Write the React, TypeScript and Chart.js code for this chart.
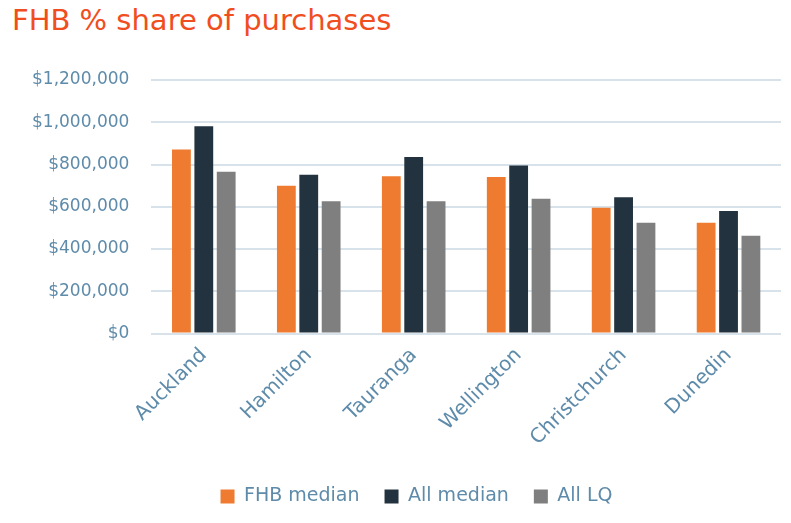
import React, { useEffect, useRef } from "react";
import { Chart, registerables } from "chart.js";

Chart.register(...registerables);

const categories = ["Auckland", "Hamilton", "Tauranga", "Wellington", "Christchurch", "Dunedin"];
const fhbMedian = [871000, 700000, 744000, 741000, 596000, 525000];
const allMedian = [981000, 752000, 836000, 796000, 645000, 580000];
const allLQ = [766000, 626000, 626000, 638000, 525000, 463000];
const seriesNames = ["FHB median", "All median", "All LQ"];
const seriesColors = ["#EE7B30", "#22333F", "#7F7F7F"];

const FONT = "'DejaVu Sans', 'Open Sans', sans-serif";
const TEXT_COLOR = "#5E8BAA";

const shiftLegend = {
  id: "shiftLegend",
  afterLayout(chart: any) {
    const lg = chart.legend;
    if (lg) {
      lg.left += 21;
      lg.right += 21;
    }
  },
};

export default function App() {
  const ref = useRef<HTMLCanvasElement | null>(null);
  useEffect(() => {
    if (!ref.current) return;
    const chart = new Chart(ref.current, {
      type: "bar",
      data: {
        labels: categories,
        datasets: [fhbMedian, allMedian, allLQ].map((d, i) => ({
          label: seriesNames[i],
          data: d,
          backgroundColor: seriesColors[i],
          borderWidth: 0,
          categoryPercentage: 0.64,
          barPercentage: 0.84,
        })),
      },
      plugins: [shiftLegend],
      options: {
        animation: false,
        responsive: true,
        maintainAspectRatio: false,
        layout: { padding: { top: 80, right: 10, left: 10, bottom: 7 } },
        plugins: {
          title: { display: false },
          tooltip: { enabled: false },
          legend: {
            position: "bottom",
            labels: {
              boxWidth: 14,
              boxHeight: 14,
              padding: 25,
              color: TEXT_COLOR,
              font: { family: FONT, size: 19 },
            },
          },
        },
        scales: {
          x: {
            grid: { display: false },
            border: { display: false },
            afterFit: (scale: any) => {
              scale.height += 10;
            },
            ticks: {
              color: TEXT_COLOR,
              font: { family: FONT, size: 20 },
              maxRotation: 45,
              minRotation: 45,
              padding: 2,
            },
          },
          y: {
            min: 0,
            max: 1200000,
            border: { display: false },
            grid: { color: "#D8E2EA", lineWidth: 2, drawTicks: false },
            ticks: {
              stepSize: 200000,
              color: TEXT_COLOR,
              padding: 22,
              font: { family: FONT, size: 17 },
              callback: (v: any) => "$" + Number(v).toLocaleString("en-US"),
            },
          },
        },
      },
    });
    return () => chart.destroy();
  }, []);
  return (
    <div style={{ position: "absolute", left: 0, top: 0, width: 791, height: 523, background: "#fff" }}>
      <div
        style={{
          position: "absolute",
          left: 12,
          top: 0,
          fontFamily: FONT,
          fontSize: 29,
          color: "#F04E1E",
          lineHeight: "40px",
        }}
      >
        FHB % share of purchases
      </div>
      <canvas ref={ref} style={{ position: "absolute", left: 0, top: 0, width: 791, height: 523 }} />
    </div>
  );
}
